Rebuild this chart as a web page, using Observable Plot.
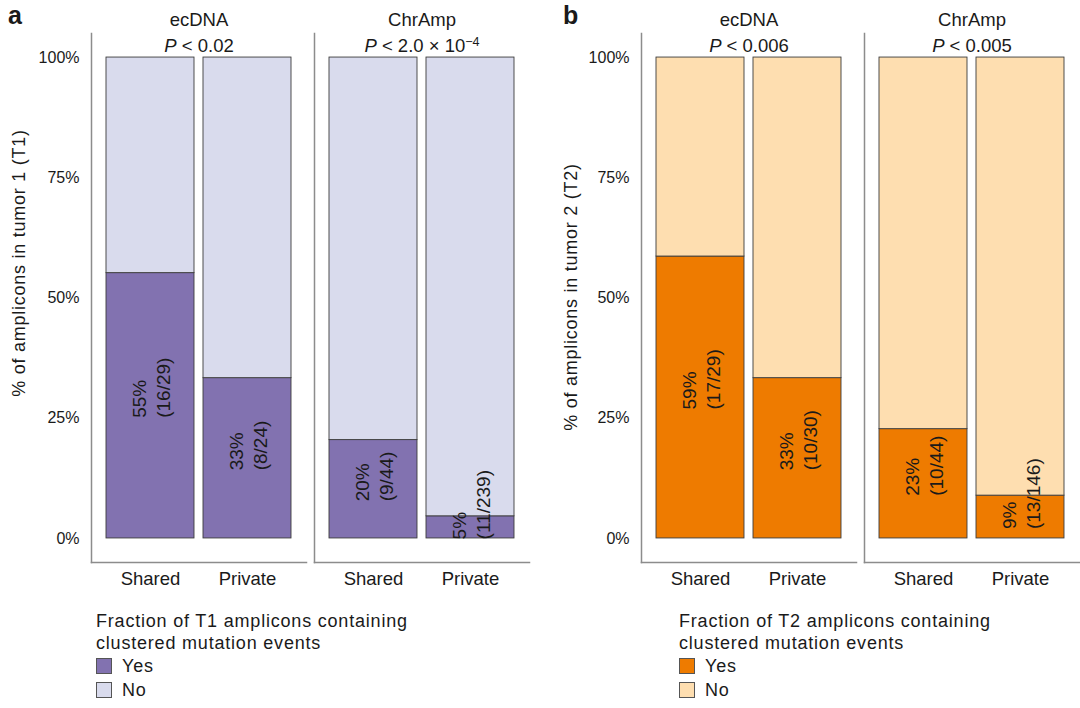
<!DOCTYPE html>
<html><head><meta charset="utf-8">
<script src="https://cdn.jsdelivr.net/npm/d3@7"></script>
<script src="https://cdn.jsdelivr.net/npm/@observablehq/plot@0.6"></script>
<style>
body{margin:0;background:#fff;font-family:"Liberation Sans",Arial,sans-serif;color:#1a1a1a}
#root{position:relative;width:1080px;height:708px;overflow:hidden;background:#fff}
.panel{position:absolute;top:0}
.tag{position:absolute;font-weight:bold;font-size:25px;line-height:25px}
.ylab{position:absolute;font-size:18px;letter-spacing:0.75px;white-space:nowrap;transform:translate(-50%,-50%) rotate(-90deg)}
.legend{position:absolute;font-size:18px;letter-spacing:0.8px}
.legend .t{line-height:22px}
.legend .row{line-height:24px;height:24px}
.sw{display:inline-block;width:14px;height:14px;border:1px solid #555;vertical-align:-2px;margin-right:10px}
</style></head>
<body><div id="root"></div>
<script>
const types = ["ecDNA", "ChrAmp"];
const groups = ["Shared", "Private"];
const statuses = ["Yes", "No"];
const pLabelsT1 = ["P < 0.02", "P < 2.0 × 10^−4"];
const pLabelsT2 = ["P < 0.006", "P < 0.005"];
// order: ecDNA Shared, ecDNA Private, ChrAmp Shared, ChrAmp Private
const yesT1 = [16, 8, 9, 11];
const totalT1 = [29, 24, 44, 239];
const yesT2 = [17, 10, 10, 13];
const totalT2 = [29, 30, 44, 146];
const yTicks = [0, 0.25, 0.5, 0.75, 1];
const colorsT1 = ["#8272b0", "#d9dbed"];
const colorsT2 = ["#ee7b00", "#fedeb0"];

const FONT = '"Liberation Sans", Arial, sans-serif';

function makePanel(yes, total, pLabels, colors, marginLeft, marginRight) {
  const cells = [];
  types.forEach((t, i) => groups.forEach((g, j) => {
    const k = i * 2 + j;
    cells.push({type: t, group: g, yes: yes[k], total: total[k]});
  }));
  const rows = [];
  for (const c of cells) rows.push({type: c.type, group: c.group, status: "Yes", value: c.yes / c.total});
  for (const c of cells) rows.push({type: c.type, group: c.group, status: "No", value: 1 - c.yes / c.total});
  const facetRows = types.map((t, i) => ({type: t, p: pLabels[i]}));
  const svg = Plot.plot({
    width: 540, height: 600,
    marginLeft, marginRight, marginTop: 33, marginBottom: 38,
    style: {fontFamily: FONT, fontSize: "17px", color: "#1a1a1a", background: "transparent", overflow: "visible"},
    fx: {domain: types, paddingInner: 0.0357, paddingOuter: 0, axis: null},
    x: {domain: groups, paddingInner: 0.092, paddingOuter: 0.143, axis: null},
    y: {domain: [-0.05, 1.05], axis: null},
    color: {domain: statuses, range: colors},
    marks: [
      Plot.frame({anchor: "left", stroke: "#8c8c8c", strokeWidth: 1.5}),
      Plot.frame({anchor: "bottom", stroke: "#8c8c8c", strokeWidth: 1.5}),
      Plot.barY(rows, {fx: "type", x: "group", y: "value", fill: "status", stroke: "#3c3c3c", strokeWidth: 0.9}),
      Plot.text(cells, {
        fx: "type", x: "group", y: d => d.yes / d.total / 2,
        text: d => `${Math.round(100 * d.yes / d.total)}%\n(${d.yes}/${d.total})`,
        rotate: -90, textAnchor: "start", dy: 12, lineHeight: 1.22, fontSize: 19, fill: "#1a1a1a"
      }),
      Plot.axisY({ticks: yTicks, tickFormat: d => Math.round(d * 100) + "%", tickSize: 0, tickPadding: 12, fontSize: 16, label: null}),
      Plot.axisX({tickSize: 0, tickPadding: 9, fontSize: 18.5, label: null}),
      Plot.text(facetRows, {fx: "type", text: "type", frameAnchor: "top", dy: -21, fontSize: 18.5, fill: "#1a1a1a"}),
      Plot.text(facetRows, {fx: "type", text: "p", frameAnchor: "top", dy: 5, fontSize: 18.5, fill: "#1a1a1a"})
    ]
  });
  svg.querySelectorAll("text").forEach(t => {
    const s = t.textContent;
    if (s.startsWith("P <")) {
      const m = s.match(/^P(.*?)(?:\^(.*))?$/);
      let html = '<tspan font-style="italic">P</tspan>' + m[1];
      if (m[2]) html += '<tspan dy="-0.45em" font-size="0.68em">' + m[2] + '</tspan>';
      t.innerHTML = html;
    }
  });
  return svg;
}

const root = document.getElementById("root");
function add(el, left, top) { el.style.position = "absolute"; el.style.left = left + "px"; el.style.top = top + "px"; root.appendChild(el); return el; }

const pa = document.createElement("div"); pa.className = "panel";
pa.appendChild(makePanel(yesT1, totalT1, pLabelsT1, colorsT1, 90, 10));
add(pa, 0, 0);
const pb = document.createElement("div"); pb.className = "panel";
pb.appendChild(makePanel(yesT2, totalT2, pLabelsT2, colorsT2, 100, 0));
add(pb, 540, 0);

function tag(txt, x, y) { const d = document.createElement("div"); d.className = "tag"; d.textContent = txt; add(d, x, y); }
tag("a", 8, 3); tag("b", 563, 3);

function ylab(txt, x, y) { const d = document.createElement("div"); d.className = "ylab"; d.textContent = txt; add(d, x, y); }
ylab("% of amplicons in tumor 1 (T1)", 19, 263);
ylab("% of amplicons in tumor 2 (T2)", 571, 297);

function legend(title, colors, x, y) {
  const d = document.createElement("div"); d.className = "legend";
  const t = document.createElement("div"); t.className = "t"; t.innerHTML = title; d.appendChild(t);
  statuses.forEach((s, i) => {
    const r = document.createElement("div"); r.className = "row";
    r.innerHTML = `<span class="sw" style="background:${colors[i]}"></span>${s}`;
    d.appendChild(r);
  });
  add(d, x, y);
}
legend("Fraction of T1 amplicons containing<br>clustered mutation events", colorsT1, 96, 610);
legend("Fraction of T2 amplicons containing<br>clustered mutation events", colorsT2, 679, 610);
</script></body></html>
